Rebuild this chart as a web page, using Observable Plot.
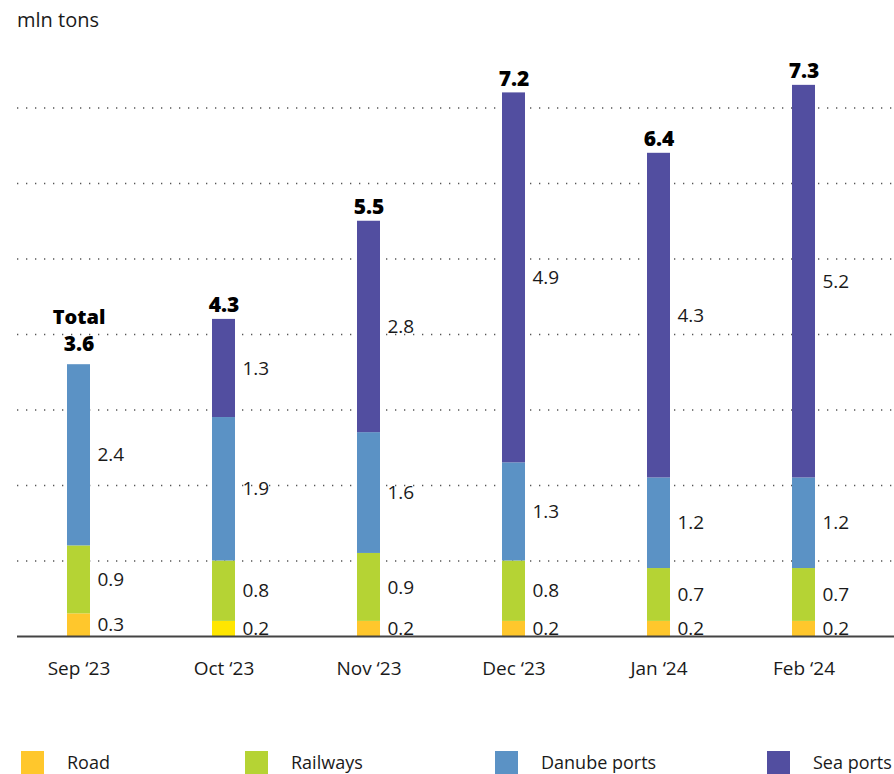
<!DOCTYPE html>
<html>
<head>
<meta charset="utf-8">
<script src="https://cdn.jsdelivr.net/npm/d3@7"></script>
<script src="https://cdn.jsdelivr.net/npm/@observablehq/plot@0.6"></script>
<style>
  html, body { margin: 0; padding: 0; background: #fff; }
  #wrap { position: relative; width: 894px; height: 774px; overflow: hidden; font-family: "Open Sans", Lato, sans-serif; color: #1a1a1a; }
  #wrap svg { position: absolute; left: 0; top: 0; }
  .title { position: absolute; left: 17px; top: 8px; font-size: 20px; line-height: 24px; }
  .sw { position: absolute; width: 23px; height: 23px; top: 751px; }
  .lab { position: absolute; top: 751px; height: 23px; line-height: 23px; font-size: 18px; white-space: nowrap; }
</style>
</head>
<body>
<div id="wrap">
  <div class="title">mln tons</div>
</div>
<script>
const months = ["Sep \u201823", "Oct \u201823", "Nov \u201823", "Dec \u201823", "Jan \u201824", "Feb \u201824"];
const modes = ["Road", "Railways", "Danube ports", "Sea ports"];
const road = [0.3, 0.2, 0.2, 0.2, 0.2, 0.2];
const railways = [0.9, 0.8, 0.9, 0.8, 0.7, 0.7];
const danube = [2.4, 1.9, 1.6, 1.3, 1.2, 1.2];
const sea = [0, 1.3, 2.8, 4.9, 4.3, 5.2];
const totals = [3.6, 4.3, 5.5, 7.2, 6.4, 7.3];
const gridValues = [1, 2, 3, 4, 5, 6, 7];

const colors = {"Road": "#ffc72c", "Railways": "#b5d334", "Danube ports": "#5b92c5", "Sea ports": "#524ea0"};
const octRoadColor = "#ffe600";

const series = [road, railways, danube, sea];
const data = [];
modes.forEach((m, j) => months.forEach((mo, i) => data.push({month: mo, mode: m, value: series[j][i]})));

const tops = months.map((mo, i) => ({month: mo, top: series.reduce((s, arr) => s + arr[i], 0), total: totals[i], i}));

const W = 894, H = 774, base = 636, unit = 75.5;
const FONT = "'Open Sans', Lato, sans-serif";

const chart = Plot.plot({
  width: W,
  height: H,
  marginLeft: 17,
  marginRight: 0,
  marginTop: 0,
  marginBottom: H - base,
  style: {fontFamily: FONT, color: "#1a1a1a", background: "transparent"},
  x: {type: "band", domain: months, range: [4.9, 876.1], paddingInner: 0.842, paddingOuter: 0.421, label: null},
  y: {domain: [0, 7.6], range: [base, base - 7.6 * unit], axis: null},
  color: {type: "identity"},
  marks: [
    Plot.ruleY(gridValues, {stroke: "#555", strokeWidth: 1.3, strokeDasharray: "1.3,7.7"}),
    Plot.barY(data, {
      x: "month", y: "value",
      fill: d => (d.mode === "Road" && d.month === months[1]) ? octRoadColor : colors[d.mode]
    }),
    Plot.ruleY([0], {stroke: "#444", strokeWidth: 2}),
    Plot.text(data, Plot.stackY({
      x: "month", y: "value",
      text: d => d.value > 0 ? d.value.toFixed(1) : "",
      textAnchor: "start", dx: 18.5, fontSize: 19, fill: "#1a1a1a"
    })),
    Plot.text(tops.filter(d => d.i > 0), {
      x: "month", y: "top", text: d => d.total.toFixed(1),
      lineAnchor: "bottom", dy: -7, fontSize: 21, fontWeight: 800, fill: "#000"
    }),
    Plot.text(tops.filter(d => d.i === 0), {
      x: "month", y: "top", text: d => d.total.toFixed(1),
      lineAnchor: "bottom", dy: -14, fontSize: 21, fontWeight: 800, fill: "#000"
    }),
    Plot.text(tops.filter(d => d.i === 0), {
      x: "month", y: "top", text: () => "Total",
      lineAnchor: "bottom", dy: -41, fontSize: 20, fontWeight: 800, fill: "#000"
    }),
    Plot.axisX({tickSize: 0, tickPadding: 25, fontSize: 19, label: null, fill: "#1a1a1a"})
  ]
});

const wrap = document.getElementById("wrap");
wrap.appendChild(chart);

const swX = [21, 245, 495, 767];
const labX = [67, 291, 541, 813];
modes.forEach((m, i) => {
  const s = document.createElement("div");
  s.className = "sw";
  s.style.left = swX[i] + "px";
  s.style.background = colors[m];
  wrap.appendChild(s);
  const l = document.createElement("div");
  l.className = "lab";
  l.style.left = labX[i] + "px";
  l.textContent = m;
  wrap.appendChild(l);
});
</script>
</body>
</html>
